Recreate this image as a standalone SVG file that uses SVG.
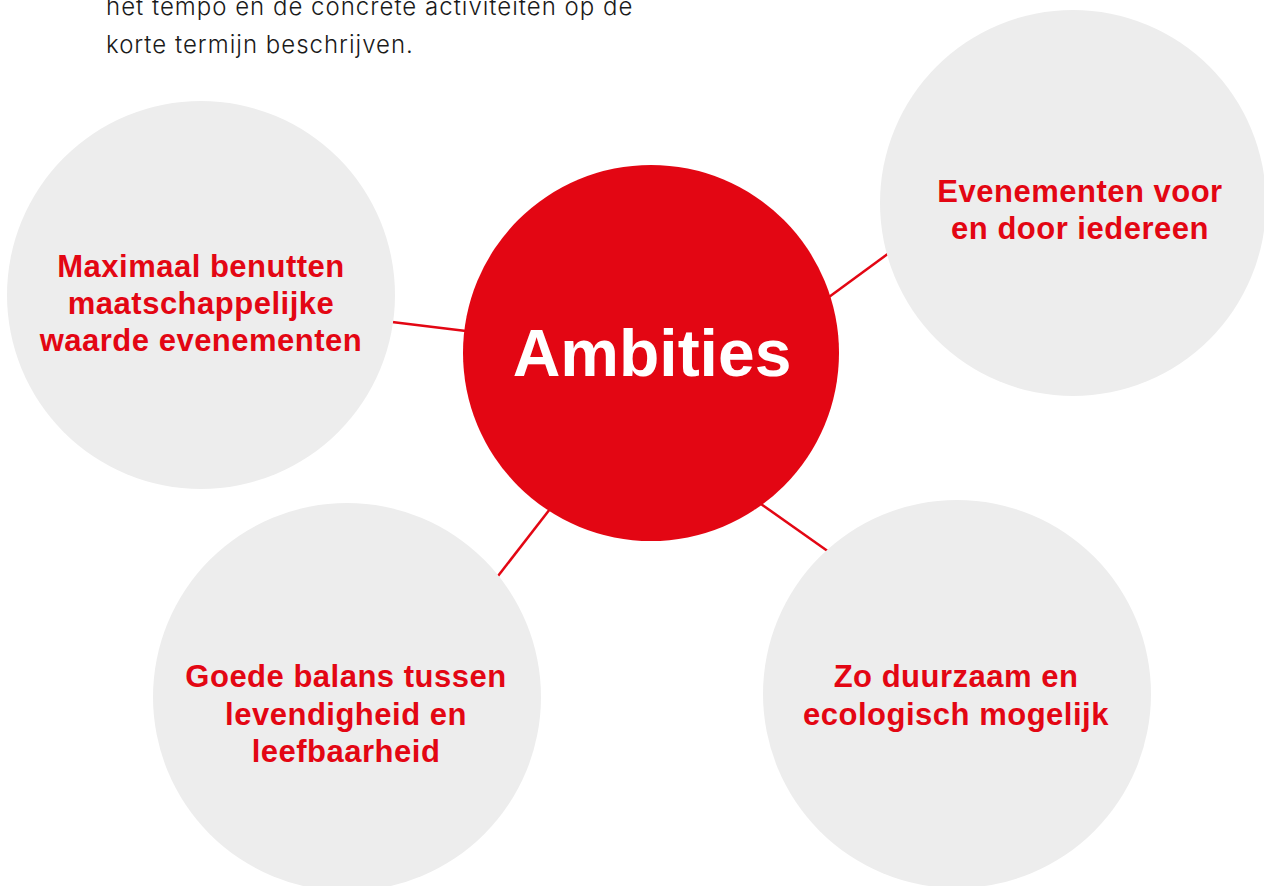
<svg xmlns="http://www.w3.org/2000/svg" width="1264" height="886" viewBox="0 0 1264 886">
<style>
.bg{fill:#ededed}
.hub{fill:#e30613}
.lbl{font-family:"Liberation Sans",Arial,sans-serif;font-weight:bold;font-size:31px;letter-spacing:0.5px;fill:#e30613;text-anchor:middle}
.hubt{font-family:"Liberation Sans",Arial,sans-serif;font-weight:bold;font-size:66px;fill:#fff;text-anchor:middle}
.intro{font-family:Inter,"Liberation Sans",sans-serif;font-weight:300;font-size:24px;letter-spacing:1px;fill:#1a1a1a}
.conn{stroke:#e30613;stroke-width:2.5;fill:none}
</style>
<rect width="1264" height="886" fill="#fff"/>
<g id="intro">
<text class="intro" x="106" y="15">het tempo en de concrete activiteiten op de</text>
<text class="intro" x="106" y="53">korte termijn beschrijven.</text>
</g>
<g id="connectors">
<line class="conn" x1="392" y1="322" x2="466" y2="331"/>
<line class="conn" x1="829" y1="297" x2="889" y2="253"/>
<line class="conn" x1="550" y1="509" x2="498" y2="576"/>
<line class="conn" x1="761" y1="504" x2="829" y2="552"/>
</g>
<g id="node-maximaal">
<circle class="bg" cx="201" cy="295" r="194"/>
<text class="lbl" x="201" y="277">Maximaal benutten</text>
<text class="lbl" x="201" y="314">maatschappelijke</text>
<text class="lbl" x="201" y="351">waarde evenementen</text>
</g>
<g id="node-evenementen">
<circle class="bg" cx="1073" cy="203" r="193"/>
<text class="lbl" x="1080" y="202">Evenementen voor</text>
<text class="lbl" x="1080" y="239">en door iedereen</text>
</g>
<g id="node-balans">
<circle class="bg" cx="347" cy="697" r="194"/>
<text class="lbl" x="346" y="687">Goede balans tussen</text>
<text class="lbl" x="346" y="725">levendigheid en</text>
<text class="lbl" x="346" y="762">leefbaarheid</text>
</g>
<g id="node-duurzaam">
<circle class="bg" cx="957" cy="694" r="194"/>
<text class="lbl" x="956" y="687">Zo duurzaam en</text>
<text class="lbl" x="956" y="725">ecologisch mogelijk</text>
</g>
<g id="node-ambities">
<circle class="hub" cx="651" cy="353" r="188"/>
<text class="hubt" x="652" y="376">Ambities</text>
</g>
</svg>
